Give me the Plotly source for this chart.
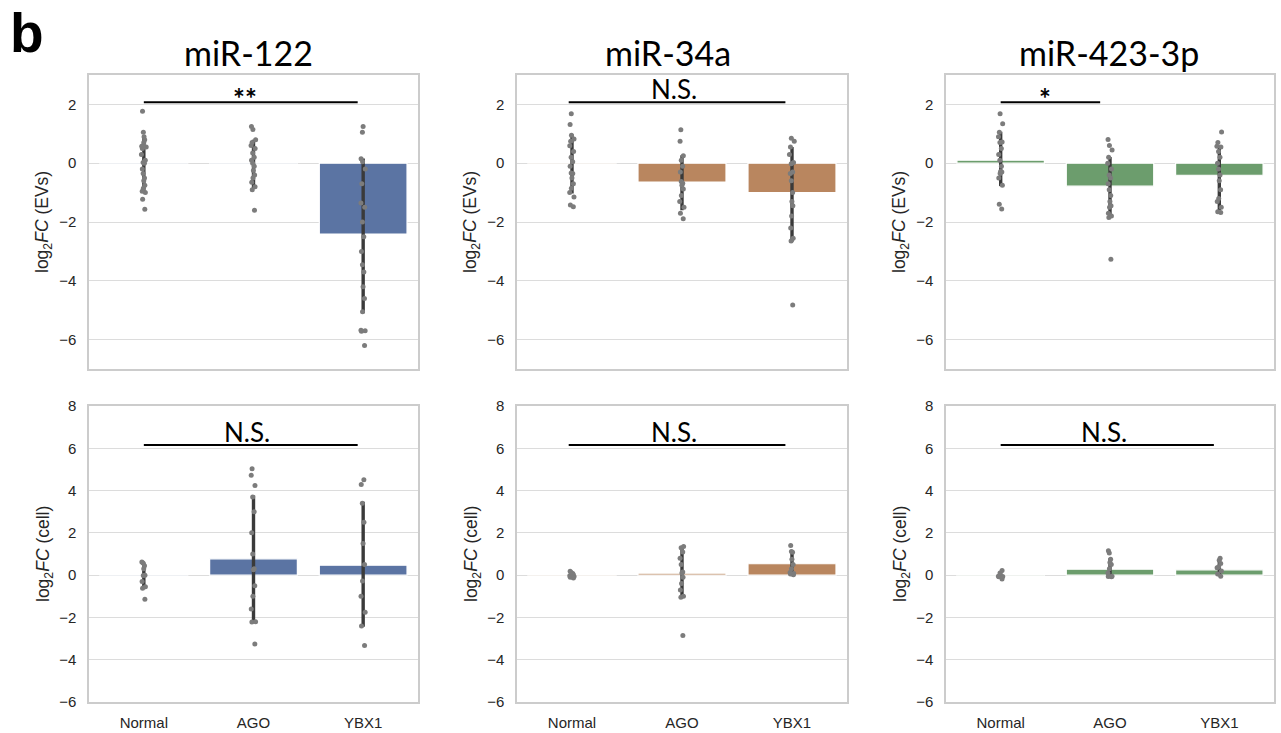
import plotly.graph_objects as go

# ---------------- data ----------------
categories = ["Normal", "AGO", "YBX1"]
genes = ["miR-122", "miR-34a", "miR-423-3p"]
bar_colors = ["#5b74a3", "#b9865f", "#6c9d6d"]

# EVs (top row): bar means, error-bar lower / upper ends
ev_mean_mir122 = [0.02, 0.02, -2.41]
ev_lo_mir122 = [-0.97, -0.85, -5.10]
ev_hi_mir122 = [0.95, 0.80, 0.16]
ev_mean_mir34a = [0.02, -0.64, -1.00]
ev_lo_mir34a = [-1.03, -1.60, -2.67]
ev_hi_mir34a = [0.98, 0.27, 0.55]
ev_mean_mir423 = [0.10, -0.78, -0.41]
ev_lo_mir423 = [-0.78, -1.85, -1.60]
ev_hi_mir423 = [1.07, 0.21, 0.53]

# cell (bottom row)
cell_mean_mir122 = [0.02, 0.77, 0.47]
cell_lo_mir122 = [-0.66, -2.22, -2.44]
cell_hi_mir122 = [0.60, 3.77, 3.47]
cell_mean_mir34a = [0.02, 0.09, 0.54]
cell_lo_mir34a = [-0.05, -1.04, 0.10]
cell_hi_mir34a = [0.10, 1.32, 1.12]
cell_mean_mir423 = [0.02, 0.28, 0.25]
cell_lo_mir423 = [-0.15, -0.05, -0.05]
cell_hi_mir423 = [0.15, 0.80, 0.75]

# individual points (strip)
ev_pts_mir122_normal = [1.77, 1.05, 0.9, 0.8, 0.7, 0.6, 0.58, 0.55, 0.55, 0.5, 0.3, 0.1, 0.02, 0.0,
                        -0.2, -0.35, -0.5, -0.6, -0.75, -0.85, -0.95, -1.0, -1.23, -1.57]
ev_pts_mir122_ago = [1.25, 1.15, 0.8, 0.7, 0.6, 0.5, 0.35, 0.2, 0.1, 0.0, -0.1, -0.25, -0.4, -0.5,
                     -0.65, -0.8, -0.9, -1.6]
ev_pts_mir122_ybx1 = [1.25, 1.05, 0.15, 0.05, -0.2, -0.7, -1.35, -1.5, -2.0, -2.5, -3.0, -3.45,
                      -3.7, -4.2, -4.6, -5.05, -5.68, -5.7, -5.72, -6.2]
ev_pts_mir34a_normal = [1.68, 1.32, 0.95, 0.82, 0.75, 0.59, 0.4, 0.2, 0.05, -0.1, -0.33, -0.35,
                        -0.5, -0.7, -0.85, -1.0, -1.15, -1.42, -1.48]
ev_pts_mir34a_ago = [1.14, 0.75, 0.25, 0.1, -0.1, -0.3, -0.62, -0.68, -0.75, -0.88, -1.1, -1.3,
                     -1.5, -1.7, -1.89]
ev_pts_mir34a_ybx1 = [0.85, 0.75, 0.55, 0.3, 0.02, -0.02, -0.3, -0.35, -0.6, -1.0, -1.3, -1.45,
                      -1.8, -2.2, -2.55, -2.65, -4.82]
ev_pts_mir423_normal = [1.68, 1.34, 1.05, 0.9, 0.72, 0.7, 0.5, 0.3, 0.1, -0.1, -0.28, -0.3, -0.35,
                        -0.5, -0.75, -1.4, -1.56]
ev_pts_mir423_ago = [0.81, 0.6, 0.45, 0.2, 0.0, -0.2, -0.4, -0.5, -0.7, -0.9, -1.1, -1.3, -1.45,
                     -1.5, -1.7, -1.8, -1.85, -3.27]
ev_pts_mir423_ybx1 = [1.06, 0.7, 0.58, 0.55, 0.4, 0.2, 0.0, -0.2, -0.4, -0.6, -0.9, -1.2, -1.3,
                      -1.5, -1.65, -1.68]

cell_pts_mir122_normal = [0.62, 0.58, 0.45, 0.3, 0.0, -0.02, -0.3, -0.55, -0.62, -1.14]
cell_pts_mir122_ago = [5.03, 4.73, 4.24, 3.7, 3.0, 2.0, 1.0, 0.3, 0.25, -0.5, -1.0, -1.6, -2.2,
                       -2.22, -3.26]
cell_pts_mir122_ybx1 = [4.51, 4.29, 3.4, 2.5, 1.5, 0.5, -0.28, -1.0, -1.75, -2.4, -3.33]
cell_pts_mir34a_normal = [0.18, 0.12, 0.08, 0.05, 0.02, 0.0, -0.03, -0.06, -0.1, -0.14]
cell_pts_mir34a_ago = [1.36, 1.3, 1.1, 0.8, 0.5, 0.15, 0.1, -0.1, -0.4, -0.7, -1.0, -1.04, -2.85]
cell_pts_mir34a_ybx1 = [1.4, 1.12, 1.08, 0.75, 0.5, 0.3, 0.12, 0.08, 0.05, 0.02]
cell_pts_mir423_normal = [0.22, 0.1, -0.05, -0.06, -0.08, -0.18]
cell_pts_mir423_ago = [1.15, 1.05, 0.75, 0.6, 0.5, 0.3, 0.1, -0.05, -0.06, -0.08]
cell_pts_mir423_ybx1 = [0.8, 0.7, 0.55, 0.4, 0.35, 0.2, 0.05, -0.05]

# significance labels: (text, from-category index, to-category index)
ev_sig = [("**", 0, 1.95), ("N.S.", -0.03, 1.94), ("*", 0, 0.91)]
cell_sig = [("N.S.", 0, 1.95), ("N.S.", -0.03, 1.94), ("N.S.", 0, 1.95)]
ev_sig_y = 2.07
cell_sig_y = 6.15

ev_label = "log<sub>2</sub><i>FC</i> (EVs)"
cell_label = "log<sub>2</sub><i>FC</i> (cell)"

# ---------------- assemble panels ----------------
rows = [
    dict(means=[ev_mean_mir122, ev_mean_mir34a, ev_mean_mir423],
         lo=[ev_lo_mir122, ev_lo_mir34a, ev_lo_mir423],
         hi=[ev_hi_mir122, ev_hi_mir34a, ev_hi_mir423],
         pts=[[ev_pts_mir122_normal, ev_pts_mir122_ago, ev_pts_mir122_ybx1],
              [ev_pts_mir34a_normal, ev_pts_mir34a_ago, ev_pts_mir34a_ybx1],
              [ev_pts_mir423_normal, ev_pts_mir423_ago, ev_pts_mir423_ybx1]],
         sig=ev_sig, sig_y=ev_sig_y, label=ev_label, yrange=[-7, 3]),
    dict(means=[cell_mean_mir122, cell_mean_mir34a, cell_mean_mir423],
         lo=[cell_lo_mir122, cell_lo_mir34a, cell_lo_mir423],
         hi=[cell_hi_mir122, cell_hi_mir34a, cell_hi_mir423],
         pts=[[cell_pts_mir122_normal, cell_pts_mir122_ago, cell_pts_mir122_ybx1],
              [cell_pts_mir34a_normal, cell_pts_mir34a_ago, cell_pts_mir34a_ybx1],
              [cell_pts_mir423_normal, cell_pts_mir423_ago, cell_pts_mir423_ybx1]],
         sig=cell_sig, sig_y=cell_sig_y, label=cell_label, yrange=[-6, 8]),
]

W, H = 1281, 733
def px(x):
    return x / W
def py(y):
    return 1 - y / H

col_px = [(89, 418), (517, 847), (946, 1274)]
row_px = [(75, 369), (406, 702)]
title_x = [248, 668, 1109]

grid_c = "#dcdcdc"
text_c = "#262626"
tick_font = dict(family="Liberation Sans, Arial", size=15, color=text_c)
ann_font = "Lato, Open Sans, sans-serif"

fig = go.Figure()
layout = dict(width=W, height=H,
              margin=dict(l=0, r=0, t=0, b=0, pad=0, autoexpand=False),
              paper_bgcolor="white", plot_bgcolor="white", showlegend=False,
              bargap=0.2, boxmode="overlay")
annotations = []
shapes = []

for r, row in enumerate(rows):
    for c in range(3):
        idx = r * 3 + c + 1
        xa = "x" if idx == 1 else f"x{idx}"
        ya = "y" if idx == 1 else f"y{idx}"
        means = row["means"][c]
        lo = row["lo"][c]
        hi = row["hi"][c]
        fig.add_trace(go.Bar(
            x=categories, y=means, xaxis=xa, yaxis=ya, width=0.8,
            marker=dict(color=bar_colors[c], line=dict(color="white", width=1.2)),
            error_y=dict(type="data", symmetric=False,
                         array=[h - m for h, m in zip(hi, means)],
                         arrayminus=[m - l for m, l in zip(means, lo)],
                         color="#3a3a3a", thickness=3.4, width=0),
        ))
        for k, cat in enumerate(categories):
            vals = row["pts"][c][k]
            fig.add_trace(go.Box(
                x=[cat] * len(vals), y=vals, xaxis=xa, yaxis=ya,
                boxpoints="all", jitter=0.1, pointpos=0,
                line=dict(color="rgba(0,0,0,0)"), fillcolor="rgba(0,0,0,0)",
                marker=dict(color="#7c7c7c", size=5),
                hoveron="points",
            ))
        x0, x1 = col_px[c]
        y0, y1 = row_px[r]
        axis_common = dict(showline=True, mirror=True, linecolor="#cccccc", linewidth=1.5,
                           gridcolor=grid_c, gridwidth=1, zeroline=False,
                           ticks="", fixedrange=True, automargin=False)
        layout["xaxis" + ("" if idx == 1 else str(idx))] = dict(
            domain=[px(x0), px(x1)], anchor=ya, type="category",
            categoryorder="array", categoryarray=categories, range=[-0.5, 2.5],
            showgrid=False, showticklabels=(r == 1), tickfont=tick_font,
            ticklabelstandoff=6, **axis_common)
        layout["yaxis" + ("" if idx == 1 else str(idx))] = dict(
            domain=[py(y1), py(y0)], anchor=xa, range=row["yrange"], dtick=2, tick0=0,
            showgrid=True, tickfont=tick_font, ticklabelstandoff=8, **axis_common)

        # y-axis label
        annotations.append(dict(text=row["label"], xref="paper", yref="paper",
                                x=px(x0 - 45), y=py((y0 + y1) / 2), textangle=-90,
                                showarrow=False, xanchor="center", yanchor="middle",
                                font=dict(family="Liberation Sans, Arial", size=17.5, color=text_c)))
        # significance bar
        txt, s0, s1 = row["sig"][c]
        shapes.append(dict(type="line", xref=xa, yref=ya, x0=s0, x1=s1,
                           y0=row["sig_y"], y1=row["sig_y"],
                           line=dict(color="black", width=2)))
        ty = row["sig_y"]
        if txt.startswith("*"):
            annotations.append(dict(text=f"<b>{txt}</b>", xref=xa, yref=ya, x=(s0 + s1) / 2 - 0.05,
                                    y=ty, showarrow=False, xanchor="center", yanchor="bottom",
                                    yshift=-15, font=dict(family=ann_font, size=28, color="black")))
        else:
            annotations.append(dict(text=txt, xref=xa, yref=ya, x=(s0 + s1) / 2 - 0.03,
                                    y=ty, showarrow=False, xanchor="center", yanchor="bottom",
                                    yshift=-5, font=dict(family=ann_font, size=26, color="black")))

# column titles
for c, g in enumerate(genes):
    annotations.append(dict(text=g, xref="paper", yref="paper", x=px(title_x[c]), y=py(53),
                            showarrow=False, xanchor="center", yanchor="middle",
                            font=dict(family=ann_font, size=34, color="black")))
# panel letter
annotations.append(dict(text="<b>b</b>", xref="paper", yref="paper", x=px(8), y=1,
                        showarrow=False, xanchor="left", yanchor="top",
                        font=dict(family="Liberation Sans, Arial", size=55, color="black")))

layout["annotations"] = annotations
layout["shapes"] = shapes
fig.update_layout(**layout)
fig.write_html("out.html", config={"displayModeBar": False},
               post_script="document.body.style.margin='0';document.body.style.overflow='hidden';")
